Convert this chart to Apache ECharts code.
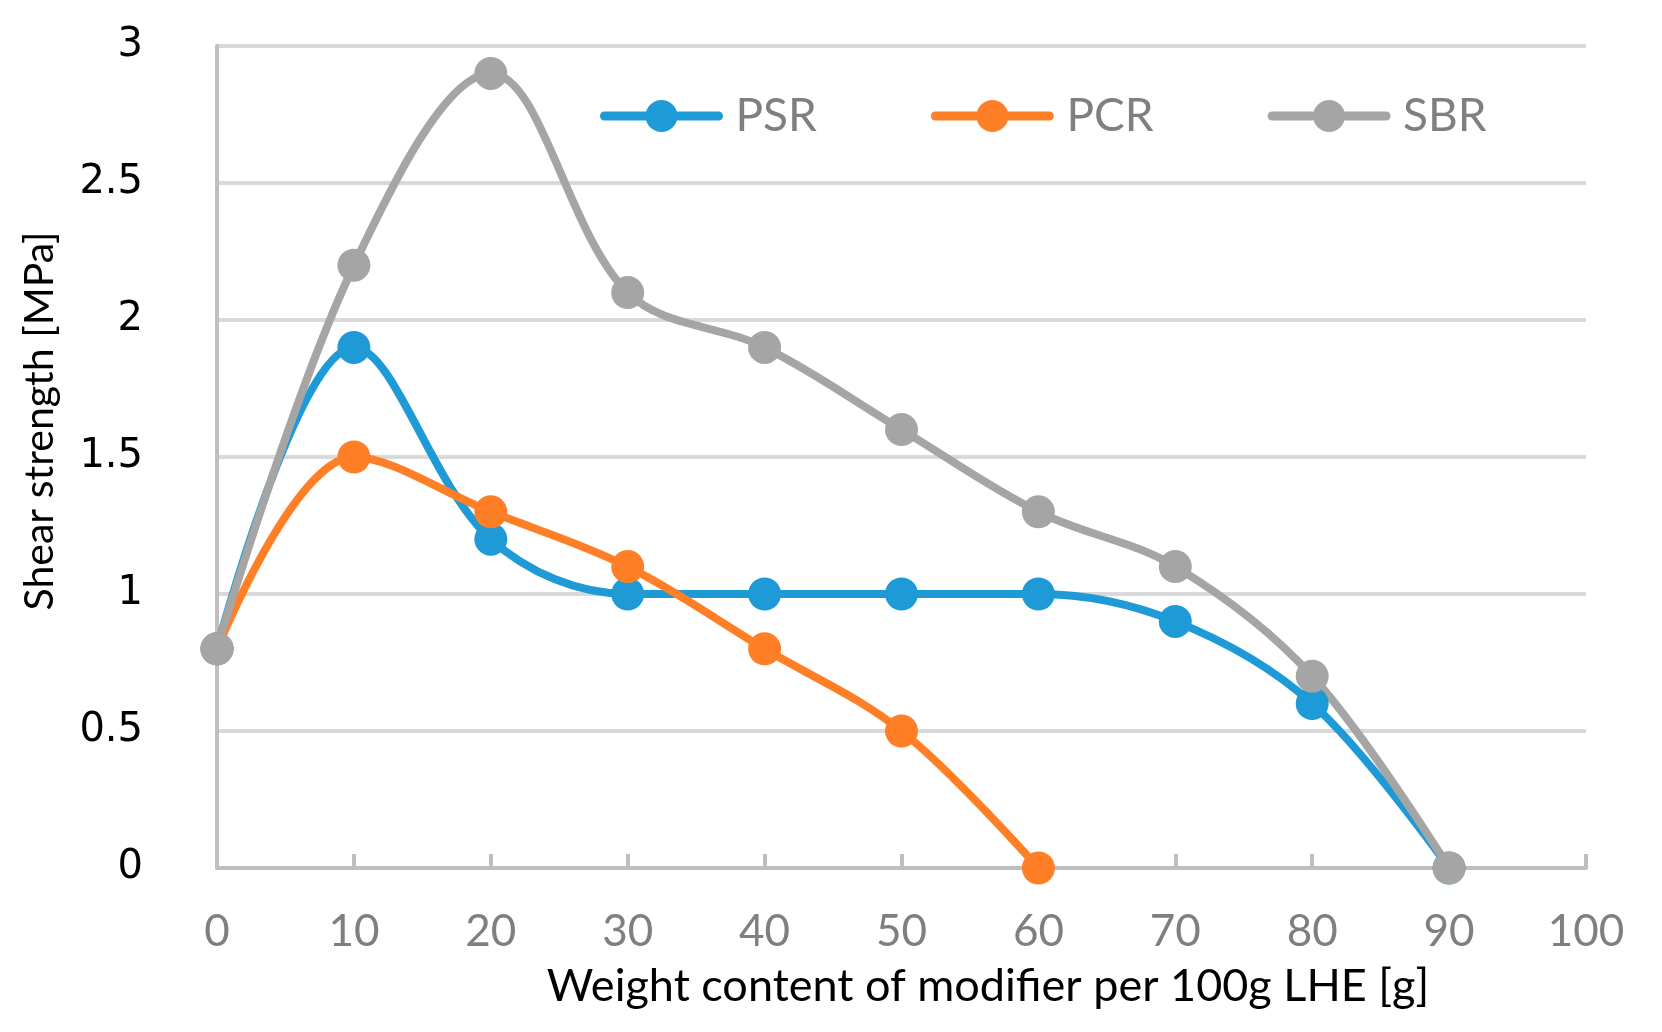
<!DOCTYPE html>
<html>
<head>
<meta charset="utf-8">
<script src="https://cdn.jsdelivr.net/npm/echarts@6/dist/echarts.min.js"></script>
<style>html,body{margin:0;padding:0;background:#fff;}#c{width:1662px;height:1032px;}</style>
</head>
<body>
<div id="c"></div>
<script>
const xValues = [0, 10, 20, 30, 40, 50, 60, 70, 80, 90];
const psr = [0.8, 1.9, 1.2, 1.0, 1.0, 1.0, 1.0, 0.9, 0.6, 0];
const pcr = [0.8, 1.5, 1.3, 1.1, 0.8, 0.5, 0];
const sbr = [0.8, 2.2, 2.9, 2.1, 1.9, 1.6, 1.3, 1.1, 0.7, 0];
const seriesNames = ['PSR', 'PCR', 'SBR'];
const colors = ['#1E9BD7', '#FF7F27', '#A5A5A5'];

function pairs(vals) { return vals.map((v, i) => [xValues[i], v]); }

const chart = echarts.init(document.getElementById('c'));
const mk = (name, vals, color) => ({
  name: name, type: 'line', data: pairs(vals), smooth: 0.35,
  symbol: 'circle', symbolSize: 33, clip: false,
  lineStyle: { width: 8, color: color, cap: 'round' }, itemStyle: { color: color }
});
chart.setOption({
  animation: false,
  color: colors,
  grid: { left: 217, right: 76, top: 46, bottom: 164 },
  legend: {
    top: 88, left: 595, itemWidth: 114, itemHeight: 40, itemGap: 114,
    lineStyle: { width: 9, cap: 'round' },
    textStyle: { fontFamily: 'Lato', fontSize: 46, color: '#7F7F7F', padding: [0, 0, 0, 12] },
    data: seriesNames
  },
  xAxis: {
    type: 'value', min: 0, max: 100, interval: 10,
    axisLine: { lineStyle: { color: '#BFBFBF', width: 4 } },
    axisTick: { show: true, inside: true, length: 14, lineStyle: { color: '#BFBFBF', width: 4 } },
    axisLabel: { fontFamily: 'Lato', fontSize: 44, color: '#7F7F7F', margin: 42 },
    splitLine: { show: false }
  },
  yAxis: {
    type: 'value', min: 0, max: 3, interval: 0.5,
    axisLine: { show: true, lineStyle: { color: '#BFBFBF', width: 4 } },
    axisTick: { show: false },
    axisLabel: { fontFamily: 'DejaVu Sans', fontSize: 40, color: '#000', margin: 74,
      formatter: v => String(v) },
    splitLine: { lineStyle: { color: '#D9D9D9', width: 4 } }
  },
  graphic: [
    { type: 'text', rotation: Math.PI / 2, x: 40, y: 421,
      style: { text: 'Shear strength [MPa]', fontFamily: 'Lato', fontSize: 41, fill: '#000',
        textAlign: 'center', textVerticalAlign: 'middle' } },
    { type: 'text', x: 988, y: 986,
      style: { text: 'Weight content of modifier per 100g LHE [g]', fontFamily: 'Lato', fontSize: 45, fill: '#000',
        textAlign: 'center', textVerticalAlign: 'middle' } }
  ],
  series: [mk('PSR', psr, colors[0]), mk('PCR', pcr, colors[1]), mk('SBR', sbr, colors[2])]
});
</script>
</body>
</html>
